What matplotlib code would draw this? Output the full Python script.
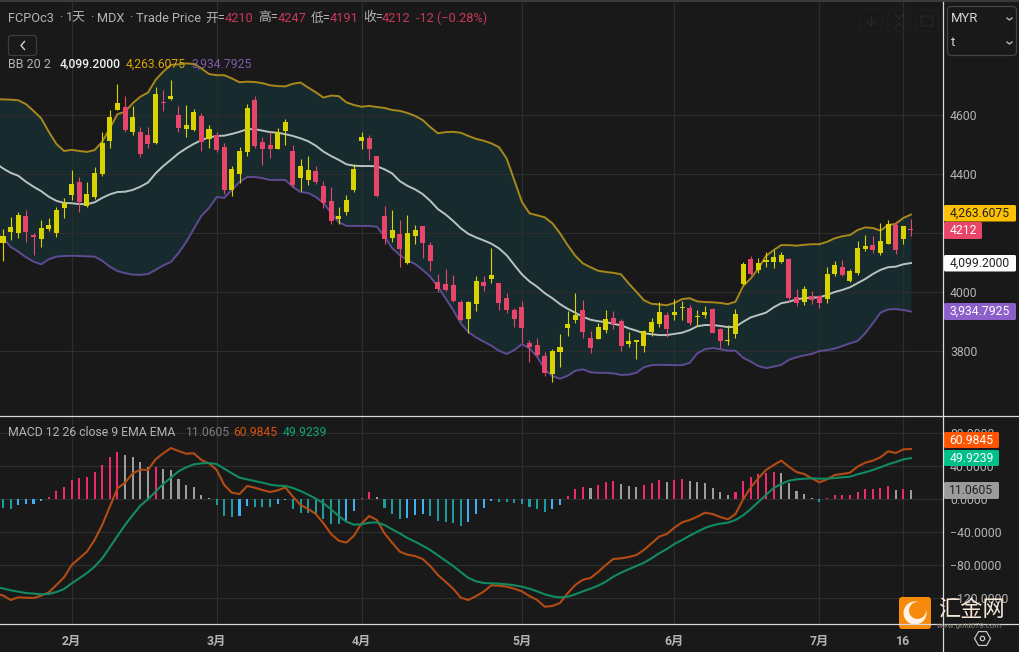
import numpy as np
import matplotlib
matplotlib.use('Agg')
import matplotlib.pyplot as plt
from matplotlib.patches import FancyBboxPatch, Rectangle, Circle, RegularPolygon

plt.rcParams['font.family'] = ['Roboto', 'Noto Sans CJK SC', 'DejaVu Sans']
plt.rcParams['axes.unicode_minus'] = True

# Velas diarias FCPOc3
opens = [4191,4221,4262,4204,4186,4218,4228,4279,4302,4367,4306,4333,4404,4505,4594,4642,4550,4594,4469,4503,
         4672,4642,4665,4557,4567,4611,4510,4554,4482,4347,4418,4479,4625,4496,4486,4486,4543,4577,4364,4428,
         4415,4374,4303,4242,4259,4313,4418,4526,4486,4326,4181,4211,4147,4201,4211,4167,4106,4011,4008,3971,
         3906,3967,4038,4021,4059,3964,3940,3910,3879,3815,3788,3726,3801,3815,3893,3923,3865,3811,3882,3910,
         3893,3818,3835,3838,3869,3899,3933,3876,3933,3950,3896,3920,3933,3862,3835,3838,3926,4096,4062,4099,
         4109,4120,4126,3981,3964,4011,3974,3964,4062,4093,4059,4072,4150,4157,4143,4174,4232,4143,4225,4210]
highs = [4214,4255,4271,4279,4201,4245,4252,4289,4320,4415,4390,4374,4424,4543,4618,4706,4665,4632,4560,4560,
         4696,4686,4720,4632,4635,4621,4608,4567,4543,4506,4428,4493,4638,4665,4526,4543,4557,4587,4499,4452,
         4462,4428,4377,4357,4289,4330,4435,4543,4533,4462,4293,4279,4245,4262,4228,4225,4170,4062,4079,4059,
         3974,3971,4055,4055,4150,4031,3998,3947,3971,3838,3845,3798,3808,3859,3937,3998,3974,3869,3896,3940,
         3937,3910,3865,3838,3872,3913,3967,3933,3977,3971,3957,3940,3954,3947,3879,3889,3943,4103,4123,4116,
         4137,4143,4137,4116,4011,4021,4004,3991,4086,4106,4109,4079,4174,4194,4191,4235,4245,4242,4225,4247]
lows = [4107,4177,4184,4170,4127,4155,4208,4187,4252,4313,4273,4289,4316,4395,4489,4618,4543,4533,4459,4489,
        4503,4615,4652,4543,4526,4547,4479,4489,4476,4333,4326,4371,4462,4489,4432,4455,4486,4499,4357,4343,
        4364,4367,4286,4232,4232,4262,4340,4486,4449,4323,4164,4170,4086,4096,4164,4116,4072,4001,4004,3967,
        3903,3862,3937,4004,4031,3940,3930,3882,3828,3764,3781,3716,3696,3747,3852,3896,3845,3794,3842,3862,
        3876,3801,3815,3774,3798,3852,3882,3848,3906,3906,3889,3886,3913,3862,3811,3821,3845,4025,4059,4065,
        4086,4082,4099,3967,3954,3957,3960,3947,3964,4055,4055,4035,4059,4140,4133,4126,4164,4130,4164,4191]
closes = [4168,4204,4200,4259,4194,4181,4213,4201,4286,4330,4374,4293,4323,4401,4513,4618,4628,4543,4543,4533,
          4505,4645,4654,4601,4554,4550,4598,4520,4533,4493,4347,4401,4476,4652,4510,4499,4486,4547,4479,4387,
          4381,4411,4360,4309,4248,4272,4347,4513,4523,4462,4259,4184,4198,4099,4191,4225,4160,4035,4028,4025,
          3967,3910,3960,4035,4045,4031,3981,3940,3950,3828,3821,3784,3723,3798,3879,3906,3940,3845,3842,3872,
          3913,3903,3825,3832,3818,3865,3893,3923,3923,3947,3947,3916,3923,3943,3876,3835,3859,4028,4113,4076,
          4103,4103,4103,4113,3984,3967,3987,3987,3977,4062,4086,4038,4065,4147,4160,4133,4164,4228,4181,4212]

# Bandas de Bollinger, el primer valor queda justo antes de la primera vela
bb_upper = [4655,4654,4653,4651,4638,4615,4590,4544,4503,4479,4483,4479,4476,4482,4510,4556,4604,4612,4641,4663,4677,
            4720,4748,4771,4773,4776,4774,4759,4740,4736,4736,4725,4712,4714,4713,4709,4702,4699,4698,4707,4711,
            4694,4678,4660,4667,4665,4644,4635,4629,4632,4628,4625,4618,4615,4608,4598,4584,4560,4539,4543,4544,
            4541,4530,4520,4514,4505,4492,4454,4381,4307,4268,4261,4254,4234,4200,4160,4124,4098,4085,4073,4069,
            4066,4061,4030,4002,3973,3961,3959,3956,3964,3977,3980,3969,3967,3966,3964,3960,3968,4021,4047,4081,
            4123,4143,4160,4160,4158,4161,4163,4163,4171,4183,4190,4194,4211,4220,4218,4209,4228,4232,4252,4263.6]
bb_mid = [4438,4420,4405,4395,4375,4358,4343,4324,4310,4303,4302,4299,4299,4305,4320,4332,4340,4341,4347,4358,4372,
          4403,4428,4449,4471,4488,4503,4516,4525,4530,4531,4537,4544,4553,4553,4548,4543,4541,4536,4530,4522,
          4512,4497,4477,4462,4449,4434,4429,4428,4428,4427,4417,4403,4377,4361,4349,4333,4310,4282,4264,4242,
          4217,4198,4186,4176,4165,4149,4126,4093,4061,4037,4019,3997,3980,3960,3944,3931,3917,3907,3902,3899,
          3893,3888,3878,3870,3861,3858,3855,3855,3859,3863,3872,3885,3889,3889,3886,3882,3883,3900,3915,3923,
          3931,3949,3963,3968,3976,3980,3982,3983,3991,4001,4008,4017,4031,4045,4062,4076,4085,4087,4095,4099.2]
bb_lower = [4201,4184,4154,4138,4119,4104,4095,4112,4121,4123,4124,4123,4122,4121,4107,4087,4072,4065,4060,4059,4062,
            4076,4091,4103,4133,4170,4215,4259,4286,4323,4320,4347,4374,4391,4391,4387,4381,4381,4381,4357,4340,
            4337,4323,4303,4269,4238,4225,4225,4225,4225,4222,4189,4150,4126,4109,4096,4076,4053,4019,3980,3940,
            3895,3865,3847,3833,3819,3802,3791,3804,3824,3810,3782,3739,3716,3707,3717,3734,3739,3729,3727,3727,
            3725,3720,3721,3727,3746,3753,3754,3754,3753,3753,3761,3793,3807,3811,3807,3802,3802,3778,3765,3750,
            3743,3748,3754,3771,3780,3786,3791,3801,3804,3809,3818,3827,3835,3861,3895,3931,3942,3943,3940,3934.8]

# MACD: histograma (una barra por vela) y lineas (con un valor antes de la primera vela)
macd_hist = [-10,-11.7,-7,-5.6,-5.4,-2,2.8,10,14.5,24,26,27,33,41.6,51,57.4,53.7,51.3,45,39,
             39.4,36.8,35.6,24.6,17.4,15,5,1.2,-7,-20,-22,-20,-8,-9,-9.2,-9.3,-5.6,-0.5,-11.7,-16.5,
             -16.7,-17.8,-23.8,-30,-30.2,-26,-14,1.6,9,2.8,-10.5,-17.8,-23.8,-22.6,-19,-17.8,-20,-26,-27.5,-28.7,
             -32,-27.5,-17.8,-10.5,-2,-3.2,-3.4,-4.4,-5.6,-9.3,-11.7,-15.4,-11.7,-7,4,12.5,15,13.7,17.4,21,
             22,18.6,16,15,17.4,20,23.4,21,23.4,24.6,22,21,19.8,13.7,9,5.3,9,22,27,30.7,
             32,33,32,19.8,10,6.5,1.6,-2.8,1.6,5.3,5.5,5.7,9,12.5,12.6,13.7,16,11.3,12.5,11.06]
macd_line = [-114.7,-116.4,-122,-118.8,-119.2,-119.6,-116.8,-112.7,-103.8,-94.5,-79.6,-71.5,-63.4,-49.3,-31.1,-8.9,13.3,20.2,31.5,36,35.6,
             48.5,55.8,62.2,58.6,55.3,55.8,47.7,43.6,35.6,17.4,8.1,6.5,16.2,14.1,11.3,8.9,10.9,14.5,3.2,-6.9,
             -11.7,-17.8,-29.1,-42,-50.1,-52.5,-44,-29.1,-20.2,-25,-41.2,-52.5,-63.4,-67.1,-68.7,-72.3,-80.8,-91.7,-99.8,-108.3,
             -119.2,-122,-117.2,-111.9,-104.2,-104.6,-105.8,-108.3,-111.5,-117.2,-122,-130.1,-129.3,-125.6,-113.9,-103.8,-97.4,-95.3,-88.1,-79.6,
             -72.3,-71.5,-69.9,-67.5,-61.4,-53.3,-45.2,-42,-34.3,-27.9,-25,-21,-16.2,-17.8,-21.4,-24.2,-17.8,0,14.5,25.5,
             35.6,41.6,46.9,39.6,33.1,30.7,25.5,20.6,24.2,29.5,30.7,32.3,39.6,44.4,46.9,50.9,58.2,56.2,60.6,60.98]
macd_signal = [-106.7,-107.9,-110.3,-111.9,-113.5,-114.3,-115.1,-114.7,-112.3,-108.7,-101.8,-95.7,-89.3,-81.6,-71.5,-58.2,-44.4,-31.1,-19,-7.7,0,
               9.3,18.6,26.3,33.9,38.8,42.4,43.6,44,42.8,37.2,31.5,26.3,24.2,22.2,20.2,17.8,16.6,16.2,13.7,10.1,
               5.7,0.8,-4.8,-12.1,-20.2,-27.1,-30.7,-30.3,-28.3,-27.9,-31.1,-36.4,-41.2,-46.9,-51.3,-56.2,-61.4,-67.9,-74.3,-80.8,
               -88.1,-95.3,-99.4,-101.4,-101.8,-102.2,-103,-104.2,-105.8,-108.3,-111.5,-115.1,-117.6,-118.8,-118,-115.1,-111.5,-108.3,-104.6,-99.8,
               -93.7,-88.9,-84.8,-80.8,-76.8,-71.5,-65.4,-60.2,-54.1,-49.3,-44,-39.2,-34.7,-31.5,-29.5,-28.3,-25,-19.4,-11.7,-3.2,
               5.3,13.7,18.6,22.6,24.2,25,25.5,25,25,25.9,26.7,27.5,30.3,32.7,35.6,38.8,42.4,45.2,48.5,49.92]

price_ticks = [3800, 4000, 4200, 4400, 4600]
price_tick_labels = ['3800', '4000', '', '4400', '4600']
macd_ticks = [-120, -80, -40, 0, 40, 80]
month_ticks = [9, 28, 47, 68, 88, 107, 118]
month_labels = ['2月', '3月', '4月', '5月', '6月', '7月', '16']

W, H = 1019, 652
BG = '#191919'
GRID = '#2c2e2e'
LINE = '#d9d9d9'
GREY = '#b4b4b4'
PINK = '#e8456a'
YELLOW = '#d8d200'

# posicion en pixeles -> datos
PX_X0, PX_STEP = 3.0, 7.63
PRICE_Y0, PRICE_K = 4990.9, 3.39
MACD_Y0, MACD_K = 605.2, 1.212


def pane(top, bottom):
    return [0, 1 - bottom / H, 943 / W, (bottom - top) / H]


fig = plt.figure(figsize=(W / 100, H / 100), dpi=100, facecolor=BG)
ax = fig.add_axes(pane(2, 416), facecolor=BG)
ax2 = fig.add_axes(pane(416, 624), facecolor=BG)

for a in (ax, ax2):
    a.set_xlim(-PX_X0 / PX_STEP, (943 - PX_X0) / PX_STEP)
    for s in a.spines.values():
        s.set_visible(False)
    a.set_xticks(month_ticks)
    a.grid(True, color=GRID, linewidth=0.8, zorder=2)
    a.set_axisbelow(False)
    a.yaxis.tick_right()
    a.tick_params(axis='both', length=0, colors=GREY, labelsize=8.8, pad=5)

ax.set_ylim(PRICE_Y0 - PRICE_K * 416, PRICE_Y0 - PRICE_K * 2)
ax2.set_ylim(MACD_Y0 - MACD_K * 624, MACD_Y0 - MACD_K * 416)

# Panel superior: bandas y velas
opens, highs, lows, closes = map(np.array, (opens, highs, lows, closes))
idx = np.arange(len(closes))
idx_band = np.arange(-1, len(closes))

ax.fill_between(idx_band, bb_lower, bb_upper, color='#172a2e', linewidth=0, zorder=1)
for vals, col in ((bb_upper, '#a8871c'), (bb_mid, '#b9c3c0'), (bb_lower, '#5f4b92')):
    ax.plot(idx_band, vals, color=col, linewidth=1.4, zorder=3)

up = closes >= opens
colors = np.where(up, PINK, YELLOW)
ax.vlines(idx, lows, highs, colors=colors, linewidth=0.8, zorder=4)
ax.bar(idx, np.maximum(np.abs(closes - opens), 3.4), bottom=np.minimum(opens, closes),
       width=0.66, color=colors, linewidth=0, zorder=5)

ax.set_yticks(price_ticks)
ax.set_yticklabels(price_tick_labels)
ax.set_xticklabels([])

# Panel MACD
hist = np.array(macd_hist)
delta = np.diff(hist, prepend=-9)
hist_colors = np.where(hist >= 0, np.where(delta >= 0, '#f0286e', '#9c9c9c'),
                       np.where(delta >= 0, '#3fb1f2', '#1f9aa0'))
ax2.bar(idx, hist, width=0.27, color=hist_colors, linewidth=0, zorder=3)
ax2.plot(idx_band, macd_line, color='#b34c14', linewidth=1.5, zorder=4)
ax2.plot(idx_band, macd_signal, color='#128a62', linewidth=1.5, zorder=5)

ax2.set_yticks(macd_ticks)
ax2.set_yticklabels([f'{v:.4f}'.replace('-', '\u2212') for v in macd_ticks])
ax2.set_xticklabels(month_labels, fontweight='bold')
ax2.tick_params(axis='x', pad=8)

# Capa en pixeles para rotulos, etiquetas y marcos
ov = fig.add_axes([0, 0, 1, 1], zorder=10)
ov.set_xlim(0, W)
ov.set_ylim(H, 0)
ov.axis('off')

ov.add_patch(Rectangle((0, 0), W, 2, color='#3a3a3a', linewidth=0))
ov.plot([0, W], [416, 416], color=LINE, linewidth=0.9)
ov.plot([0, W], [624, 624], color=LINE, linewidth=0.9)
ov.plot([943.4, 943.4], [2, H], color=LINE, linewidth=0.9)


def label(x, y, s, color=GREY, size=8.7, **kw):
    ov.text(x, y, s, color=color, fontsize=size, va='center', ha=kw.pop('ha', 'left'), **kw)


def tag(x0, x1, y0, y1, color, s, txt):
    ov.add_patch(FancyBboxPatch((x0, y0), x1 - x0, y1 - y0, boxstyle='round,pad=0,rounding_size=1.5',
                                facecolor=color, edgecolor='none'))
    label((x0 + x1) / 2, (y0 + y1) / 2, s, color=txt, size=8.7, ha='center')


# Cabecera
RED = '#c8375a'
HEAD = 9.2
for x, s in ((8, 'FCPOc3'), (59, '·'), (66, '1天'), (90, '·'), (97, 'MDX'), (129, '·'), (136, 'Trade Price')):
    label(x, 18, s, size=HEAD)
for x, name, x2, val in ((205, '开=', 225, '4210'), (258, '高=', 278, '4247'),
                         (311, '低=', 330, '4191'), (363, '收=', 382, '4212')):
    label(x, 18, name, size=HEAD)
    label(x2, 18, val, color=RED, size=HEAD)
label(416, 18, '-12 (\u22120.28%)', color=RED, size=HEAD)

label(8, 64, 'BB 20 2', size=9)
label(59.5, 64, '4,099.2000', color='#f0f0f0', fontweight='medium')
label(126, 64, '4,263.6075', color='#d9a407')
label(192, 64, '3,934.7925', color='#7d5cab')

label(8, 432, 'MACD 12 26 close 9 EMA EMA', size=8.85)
label(186, 432, '11.0605', color='#7c7c7c')
label(233.5, 432, '60.9845', color='#d9500f')
label(283, 432, '49.9239', color='#12a67c')

# Boton de volver
ov.add_patch(FancyBboxPatch((8.5, 35.5), 28, 20, boxstyle='round,pad=0,rounding_size=2.5',
                            facecolor='none', edgecolor='#3c3c3c', linewidth=0.9))
ov.plot([24.5, 21, 24.5], [41.5, 45.5, 49.5], color='#cfcfcf', linewidth=1)

# Iconos apagados arriba a la derecha
for x in (860, 888, 916):
    ov.add_patch(FancyBboxPatch((x, 10), 22, 22, boxstyle='round,pad=0,rounding_size=3',
                                facecolor='none', edgecolor='#1f1f1f', linewidth=0.8))
ov.plot([871, 871], [16, 26], color='#292929', linewidth=0.8)
ov.plot([867, 871, 875], [22, 26, 22], color='#292929', linewidth=0.8)
ov.plot([895, 899, 903], [14, 19, 14], color='#292929', linewidth=0.8)
ov.plot([895, 899, 903], [28, 23, 28], color='#292929', linewidth=0.8)
ov.add_patch(FancyBboxPatch((921, 16), 12, 10, boxstyle='round,pad=0,rounding_size=2',
                            facecolor='none', edgecolor='#292929', linewidth=0.8))

# Selector de moneda y unidad
ov.add_patch(FancyBboxPatch((947.5, 6.5), 69, 49, boxstyle='round,pad=0,rounding_size=4',
                            facecolor='none', edgecolor='#444444', linewidth=0.9))
label(951, 18.5, 'MYR', color='#d4dbe0', size=9.4)
label(951, 42, 't', color='#d4dbe0', size=9.4)
for y in (19, 43):
    ov.plot([1007, 1009.5, 1012], [y - 1, y + 1, y - 1], color='#c8c8c8', linewidth=0.9)

# Etiquetas de precio
tag(944, 1016, 205, 221.5, '#fdc004', '4,263.6075', '#222222')
tag(944, 982, 222, 239, PINK, '4212', '#ffffff')
tag(944, 1016, 255, 271.5, '#ffffff', '4,099.2000', '#222222')
tag(944, 1016, 303, 320, '#8c5fca', '3,934.7925', '#ffffff')
tag(944, 999, 432, 448, '#ff5500', '60.9845', '#ffffff')
tag(944, 999, 450, 466, '#00c08a', '49.9239', '#ffffff')
tag(944, 999, 482, 499, '#9b9b9b', '11.0605', '#222222')

# Ajustes
ov.add_patch(RegularPolygon((982.5, 638.5), 6, radius=8, orientation=np.pi / 2, facecolor='none',
                            edgecolor='#c4c4c4', linewidth=0.9))
ov.add_patch(Circle((982.5, 638.5), 2.2, facecolor='none', edgecolor='#c4c4c4', linewidth=0.9))

# Marca de agua
ov.add_patch(FancyBboxPatch((899, 597), 32, 32, boxstyle='round,pad=0,rounding_size=3',
                            facecolor='#f58a0b', edgecolor='none'))
ov.add_patch(Circle((915, 613), 11.5, facecolor='#fdf3e6', edgecolor='none'))
ov.add_patch(Circle((917.5, 610.5), 8.5, facecolor='#f58a0b', edgecolor='none'))
label(938, 609.5, '汇金网', color='#f5e6d6', size=16, family=['Noto Sans CJK SC', 'DejaVu Sans'])
label(937, 626, 'www.gold678.com', color='#8a8378', size=5.6)

fig.savefig('out.png', dpi=100, facecolor=BG)
